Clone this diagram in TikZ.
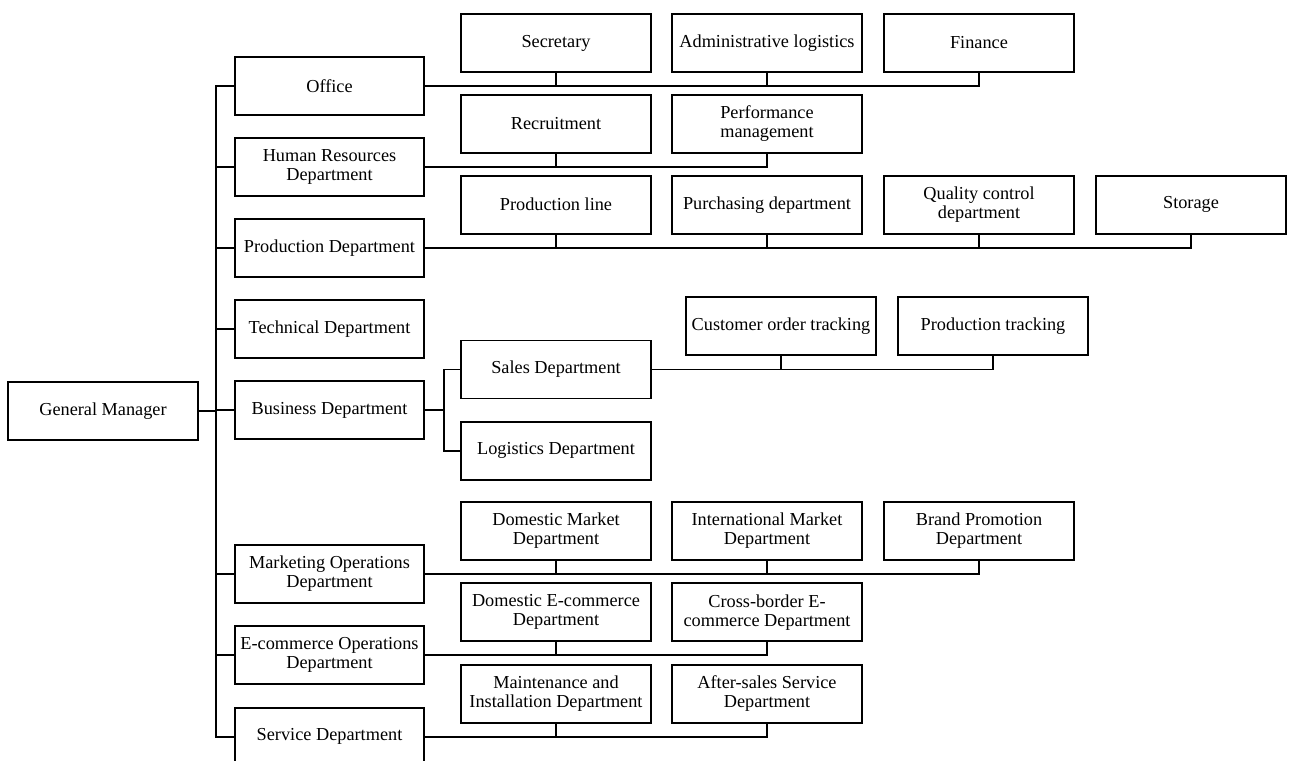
\documentclass[tikz,border=0pt]{standalone}
\usepackage{fontspec}
\setmainfont{Liberation Serif}
\usetikzlibrary{positioning,calc}
\tikzset{
    orgbox/.style={
        rectangle,
        draw,
        line width=1.1pt,
        minimum width=3.79cm,
        minimum height=1.16cm,
        inner sep=1pt,
        align=center,
        font=\fontsize{10.4}{10.8}\selectfont
    },
    link/.style={
        line width=1.1pt
    }
}

\begin{document}
\begin{tikzpicture}
    \useasboundingbox (0,0) rectangle (25.84,-15.22);

    % Top
    \node[orgbox] (gm) at (2.06,-8.22) {General Manager};

    % Departments
    \node[orgbox] (office) at (6.59,-1.72) {Office};
    \node[orgbox] (hr) at (6.59,-3.334) {Human Resources\\Department};
    \node[orgbox] (prod) at (6.59,-4.954) {Production Department};
    \node[orgbox] (tech) at (6.59,-6.58) {Technical Department};
    \node[orgbox] (bus) at (6.59,-8.2) {Business Department};
    \node[orgbox] (mkt) at (6.59,-11.48) {Marketing Operations\\Department};
    \node[orgbox] (ecom) at (6.59,-13.106) {E-commerce Operations\\Department};
    \node[orgbox] (serv) at (6.59,-14.734) {Service Department};

    % Units
    \node[orgbox] (sec) at (11.12,-0.86) {Secretary};
    \node[orgbox] (admin) at (15.34,-0.86) {Administrative logistics};
    \node[orgbox] (fin) at (19.58,-0.86) {Finance};

    \node[orgbox] (recr) at (11.12,-2.474) {Recruitment};
    \node[orgbox] (perf) at (15.34,-2.474) {Performance\\management};

    \node[orgbox] (pline) at (11.12,-4.094) {Production line};
    \node[orgbox] (purch) at (15.34,-4.094) {Purchasing department};
    \node[orgbox] (qc) at (19.58,-4.094) {Quality control\\department};
    \node[orgbox] (stor) at (23.82,-4.094) {Storage};

    \node[orgbox] (sales) at (11.12,-7.39) {Sales Department};
    \node[orgbox] (logi) at (11.12,-9.014) {Logistics Department};
    \node[orgbox] (cot) at (15.62,-6.514) {Customer order tracking};
    \node[orgbox] (ptrack) at (19.86,-6.514) {Production tracking};

    \node[orgbox] (dmd) at (11.12,-10.62) {Domestic Market\\Department};
    \node[orgbox] (imd) at (15.34,-10.62) {International Market\\Department};
    \node[orgbox] (bpd) at (19.58,-10.62) {Brand Promotion\\Department};

    \node[orgbox] (dec) at (11.12,-12.246) {Domestic E-commerce\\Department};
    \node[orgbox] (cbec) at (15.34,-12.246) {Cross-border E-\\commerce Department};

    \node[orgbox] (mai) at (11.12,-13.874) {Maintenance and\\Installation Department};
    \node[orgbox] (asd) at (15.34,-13.874) {After-sales Service\\Department};

    % Spine
    \coordinate (spine) at ($(office.west)+(-0.36,0)$);
    \draw[link] (office.west) -- (spine) |- (serv.west);
    \foreach \n in {hr,prod,tech,bus,mkt,ecom}
        \draw[link] (\n.west) -- (\n.west -| spine);
    \draw[link] (gm.east) -- (gm.east -| spine);

    % Rows
    \draw[link] (office.east) -- (office.east -| fin.south) -- (fin.south);
    \foreach \c in {sec,admin}
        \draw[link] (\c.south) -- (\c.south |- office.east);

    \draw[link] (hr.east) -- (hr.east -| perf.south) -- (perf.south);
    \draw[link] (recr.south) -- (recr.south |- hr.east);

    \draw[link] (prod.east) -- (prod.east -| stor.south) -- (stor.south);
    \foreach \c in {pline,purch,qc}
        \draw[link] (\c.south) -- (\c.south |- prod.east);

    % Business branch
    \coordinate (busj) at ($(bus.east)+(0.38,0)$);
    \draw[link] (bus.east) -- (busj);
    \draw[link] (sales.west) -| (busj) |- (logi.west);
    \draw[link] (sales.east) -- (sales.east -| ptrack.south) -- (ptrack.south);
    \draw[link] (cot.south) -- (cot.south |- sales.east);

    \draw[link] (mkt.east) -- (mkt.east -| bpd.south) -- (bpd.south);
    \foreach \c in {dmd,imd}
        \draw[link] (\c.south) -- (\c.south |- mkt.east);

    \draw[link] (ecom.east) -- (ecom.east -| cbec.south) -- (cbec.south);
    \draw[link] (dec.south) -- (dec.south |- ecom.east);

    \draw[link] (serv.east) -- (serv.east -| asd.south) -- (asd.south);
    \draw[link] (mai.south) -- (mai.south |- serv.east);
\end{tikzpicture}
\end{document}
